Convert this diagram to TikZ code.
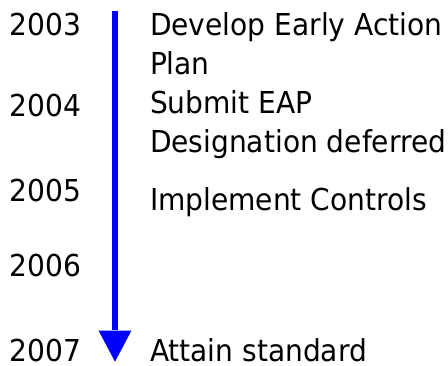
\documentclass[tikz,border=0pt]{standalone}
\usepackage{fontspec}
\setmainfont[FakeStretch=0.93]{DejaVu Sans}
\definecolor{arrowblue}{RGB}{0,0,255}
\begin{document}
\begin{tikzpicture}[x=1pt,y=1pt,
  lbl/.style={anchor=base west,inner sep=0pt,outer sep=0pt,font=\fontsize{30.2}{38.7}\selectfont,text=black}]
\useasboundingbox (0,0) rectangle (448,365);
% years
\node[lbl] (y2003) at (9.5,329) {2003};
\node[lbl] (y2004) at (9.5,248.3) {2004};
\node[lbl] (y2005) at (9.5,163.3) {2005};
\node[lbl] (y2006) at (9.5,88.3) {2006};
\node[lbl] (y2007) at (9.5,3.5) {2007};
% events
\node[lbl] (e1a) at (150,329) {Develop Early Action};
\node[lbl] (e1b) at (150,290.7) {Plan};
\node[lbl] (e2a) at (150,251.7) {Submit EAP};
\node[lbl] (e2b) at (150,212.7) {Designation deferred};
\node[lbl] (e3) at (150,154) {Implement Controls};
\node[lbl] (e4) at (150,3.5) {Attain standard};
% arrow
\coordinate (atop) at (115,354);
\coordinate (abase) at (115,34.5);
\coordinate (atip) at (115,3.3);
\draw[arrowblue,line width=6.6pt] (atop) -- ([yshift=1pt]abase);
\fill[arrowblue] ([xshift=-16.5pt]abase) -- ([xshift=16.5pt]abase) -- (atip) -- cycle;
\end{tikzpicture}
\end{document}
